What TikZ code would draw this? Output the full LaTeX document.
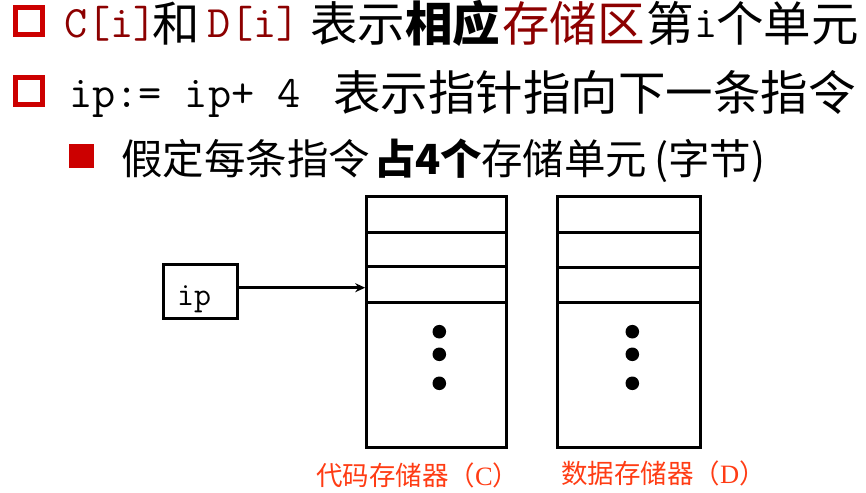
\documentclass[tikz,border=0pt]{standalone}
\usepackage{fontspec}
\usetikzlibrary{arrows.meta,calc}
\newfontfamily\cjk{Noto Sans CJK SC}
\newfontfamily\serifl{Liberation Serif}
\definecolor{bulletred}{RGB}{204,0,0}
\definecolor{dred}{RGB}{140,0,0}
\definecolor{lblred}{RGB}{255,60,20}
\begin{document}
\begin{tikzpicture}[x=1pt,y=-1pt,
  txt/.style={anchor=base west, inner sep=0pt, outer sep=0pt},
  bigcjk/.style={txt, font=\cjk\fontsize{47.5}{50}\selectfont},
  bigtt/.style={txt, font=\ttfamily\fontsize{45}{50}\selectfont},
  midcjk/.style={txt, font=\cjk\fontsize{41.5}{44}\selectfont},
  lbl/.style={txt, text=lblred, font=\cjk\fontsize{26.5}{28}\selectfont},
  hollowbullet/.style={draw=bulletred, line width=5pt, minimum width=26.7pt, minimum height=27pt, inner sep=0pt},
  solidbullet/.style={fill=bulletred, minimum width=24.7pt, minimum height=24.3pt, inner sep=0pt},
  memblock/.style={draw, line width=3pt, inner sep=0pt},
  memline/.style={line width=3pt},
  dot/.style={fill=black},
  conn/.style={line width=2.6pt, -{Stealth[length=10pt,width=9pt]}}
]
\useasboundingbox (0,0) rectangle (866,492);

% bullets
\node[hollowbullet] (b1) at (29.2,21) {};
\node[hollowbullet] (b2) at (29.2,91) {};
\node[solidbullet] (b3) at (81.7,156.2) {};

% line 1
\node[bigtt, text=dred] (l1a) at (64,38) {C[i]};
\node[bigcjk] (l1b) at (152,41.5) {和};
\node[bigtt, text=dred] (l1c) at (207,38) {D[i]};
\node[bigcjk] (l1d) at (310,41.5) {表示};
\node[bigcjk, font=\cjk\bfseries\fontsize{47.5}{50}\selectfont] (l1e) at (405,41.5) {相应};
\node[bigcjk, text=dred] (l1f) at (502,41.5) {存储区};
\node[bigcjk] (l1g) at (646,41.5) {第};
\node[bigtt] (l1h) at (694,38) {i};
\node[bigcjk] (l1i) at (716,41.5) {个单元};

% line 2
\node[bigtt] (l2a) at (69,107) {ip:= ip+ 4};
\node[bigcjk] (l2b) at (333,110.5) {表示指针指向下一条指令};

% line 3
\node[midcjk] (l3a) at (121,174) {假定每条指令};
\node[midcjk, font=\cjk\bfseries\fontsize{41.5}{44}\selectfont] (l3b) at (374,174) {占4个};
\node[midcjk] (l3c) at (481,174) {存储单元};
\node[midcjk] (l3d) at (654,174) {(字节)};

% ip register
\node[memblock, minimum width=74.4pt, minimum height=54.3pt] (ipbox) at (200.5,291.2) {};
\node[inner sep=0pt, anchor=base, font=\ttfamily\fontsize{33}{35}\selectfont] (iptext) at (194,305) {ip};

% code memory
\node[memblock, minimum width=140pt, minimum height=250.3pt] (cmem) at (436.7,321.85) {};
\draw[memline] (cmem.west |- 0,232) -- (cmem.east |- 0,232);
\draw[memline] (cmem.west |- 0,266.7) -- (cmem.east |- 0,266.7);
\draw[memline] (cmem.west |- 0,302.3) -- (cmem.east |- 0,302.3);
\fill[dot] (439.3,331.7) circle (6.8pt);
\fill[dot] (439.3,354.3) circle (6.8pt);
\fill[dot] (439.3,383.3) circle (6.8pt);

% data memory
\node[memblock, minimum width=143.4pt, minimum height=250.6pt] (dmem) at (629,322) {};
\draw[memline] (dmem.west |- 0,232.3) -- (dmem.east |- 0,232.3);
\draw[memline] (dmem.west |- 0,267.3) -- (dmem.east |- 0,267.3);
\draw[memline] (dmem.west |- 0,302.3) -- (dmem.east |- 0,302.3);
\fill[dot] (632.3,331.7) circle (6.8pt);
\fill[dot] (632.3,354.3) circle (6.8pt);
\fill[dot] (632.3,383.3) circle (6.8pt);

% arrow
\coordinate (tgt) at (cmem.west |- 0,287.7);
\draw[conn] (ipbox.east |- tgt) -- (tgt);

% labels
\node[lbl] (lc) at (316,485.5) {代码存储器（{\serifl C}）};
\node[lbl] (ld) at (561,483.5) {数据存储器（{\serifl D}）};
\end{tikzpicture}
\end{document}
